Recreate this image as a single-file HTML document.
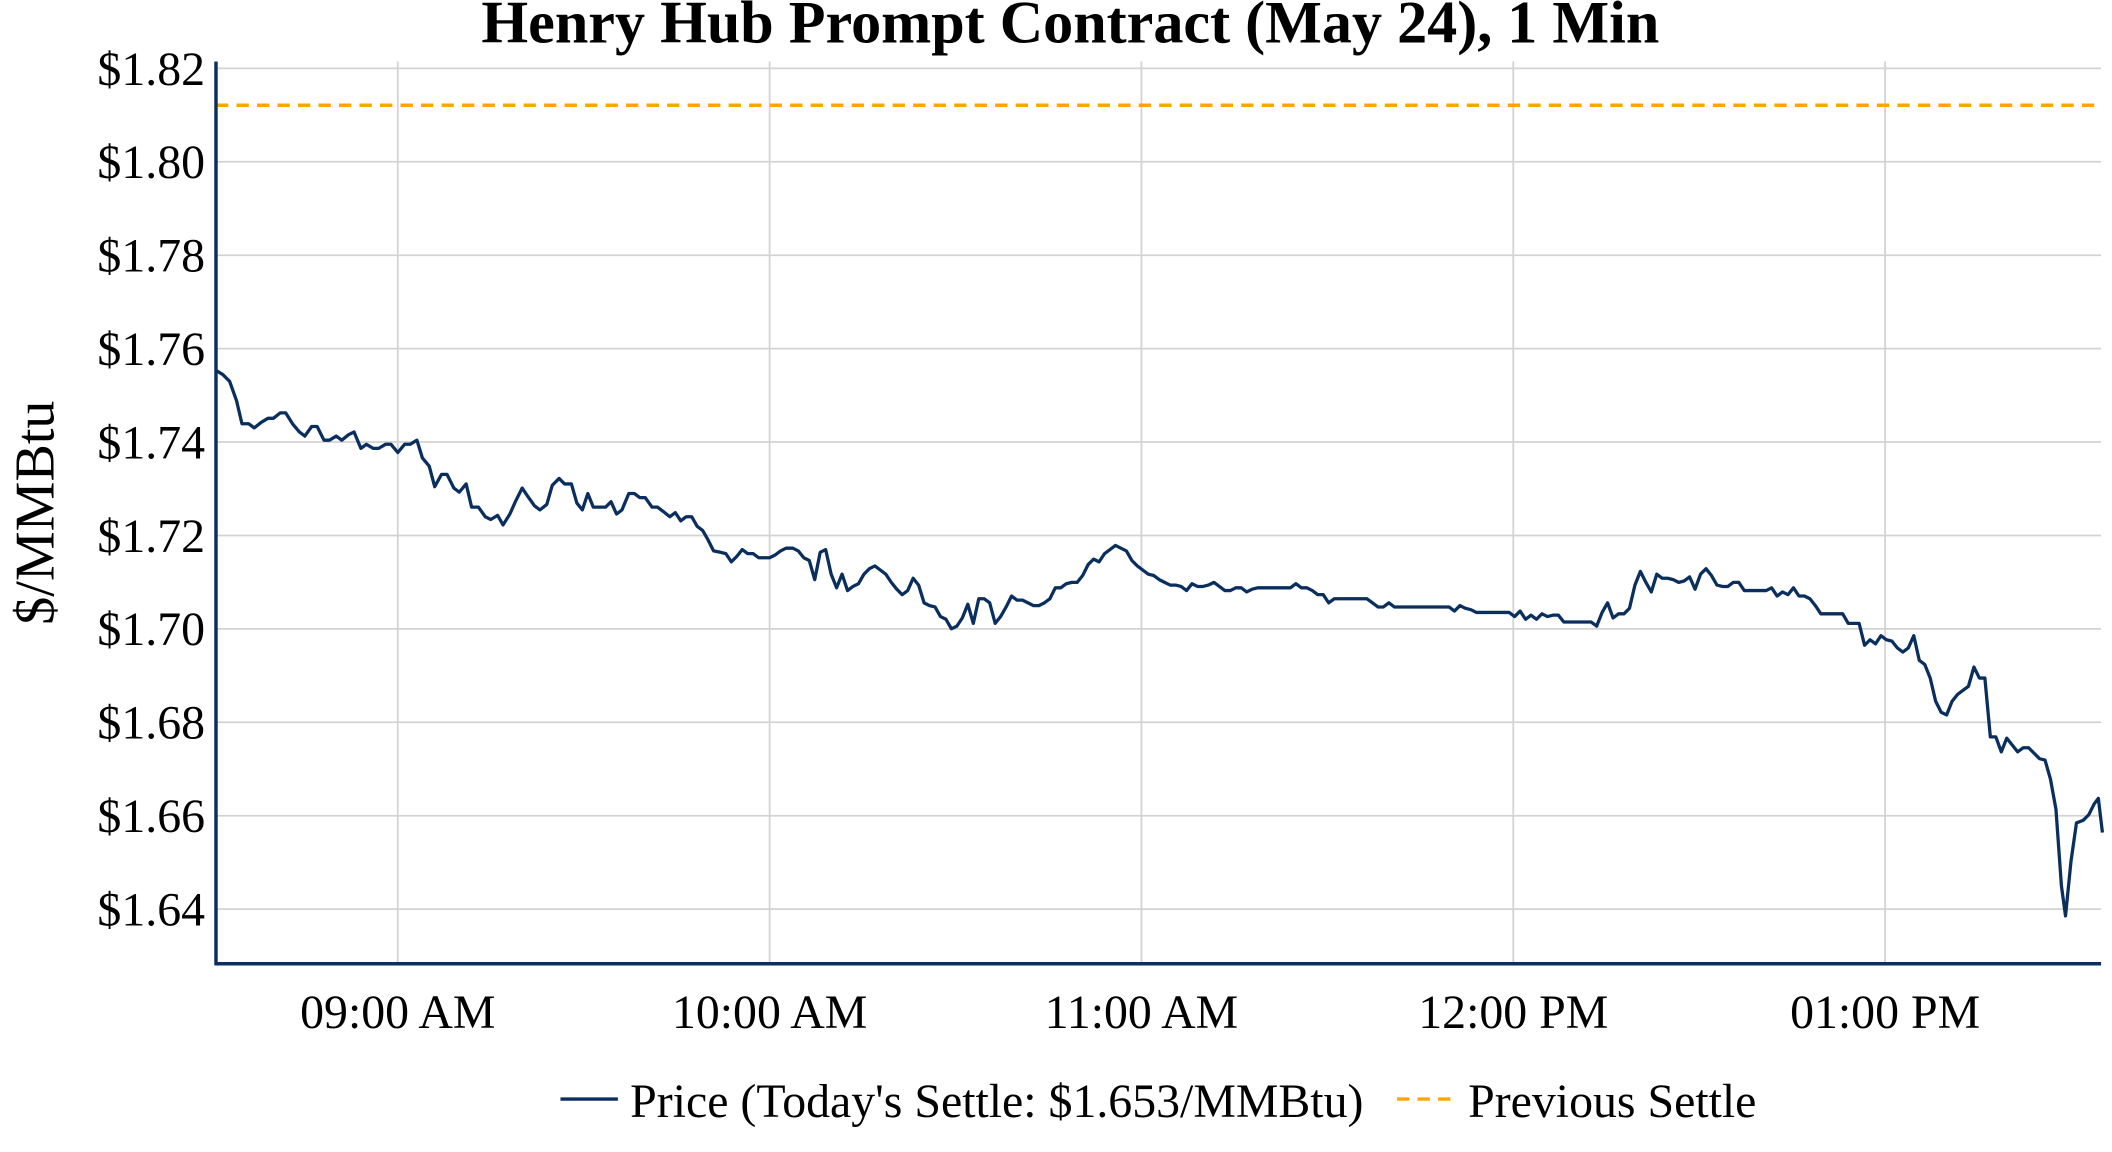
<!DOCTYPE html>
<html><head><meta charset="utf-8"><style>html,body{margin:0;padding:0;background:#fff;}svg{display:block}</style></head>
<body>
<svg width="2112" height="1152" viewBox="0 0 1545 842.7" preserveAspectRatio="none" xmlns="http://www.w3.org/2000/svg" font-family="'Liberation Serif', serif">
<g stroke="#d3d3d3" stroke-width="1.3">
<line x1="158" x2="1537" y1="50" y2="50"/><line x1="158" x2="1537" y1="118.3" y2="118.3"/><line x1="158" x2="1537" y1="186.7" y2="186.7"/><line x1="158" x2="1537" y1="255" y2="255"/><line x1="158" x2="1537" y1="323.3" y2="323.3"/><line x1="158" x2="1537" y1="391.7" y2="391.7"/><line x1="158" x2="1537" y1="460" y2="460"/><line x1="158" x2="1537" y1="528.3" y2="528.3"/><line x1="158" x2="1537" y1="596.7" y2="596.7"/><line x1="158" x2="1537" y1="665" y2="665"/>
<line x1="291" x2="291" y1="45" y2="705"/><line x1="563" x2="563" y1="45" y2="705"/><line x1="835" x2="835" y1="45" y2="705"/><line x1="1107" x2="1107" y1="45" y2="705"/><line x1="1379" x2="1379" y1="45" y2="705"/>
</g>
<line x1="158" x2="1537" y1="77" y2="77" stroke="#ffa500" stroke-width="2.5" stroke-dasharray="9,6"/>
<polyline fill="none" stroke="#0a2f5e" stroke-width="2.4" stroke-linejoin="round" points="158,271 163,274 168,279 173,293 177,310 182,310 186,313 191,309 196,306 200,306 205,302 209,302 214,310 219,316 223,319 228,312 232,312 237,322 241,322 246,319 250,322 255,318 259,316 264,328 268,325 273,328 277,328 282,325 286,325 291,331 296,325 300,325 305,322 309,335 314,341 318,356 323,347 327,347 332,357 336,360 341,354 345,371 350,371 355,378 359,380 364,377 368,384 373,376 377,367 382,357 386,363 391,370 395,373 400,369 404,355 409,350 413,354 418,354 422,368 426,373 430,361 434,371 439,371 443,371 447,367 451,376 455,373 460,361 464,361 468,364 472,364 477,371 481,371 485,374 490,378 494,375 498,381 502,378 506,378 510,385 514,388 518,395 522,403 527,404 531,405 535,411 539,407 543,402 547,405 551,405 555,408 559,408 563,408 567,406 571,403 575,401 580,401 584,403 588,408 592,410 596,424 600,404 604,402 608,420 612,430 616,420 620,432 624,429 628,427 632,420 636,416 640,414 644,417 648,420 652,426 656,431 660,435 664,432 668,423 672,428 676,441 680,443 684,444 688,451 692,453 696,460 700,458 704,452 708,442 712,456 716,438 720,438 724,441 728,456 732,451 736,444 740,436 744,439 748,439 752,441 756,443 760,443 764,441 768,438 772,430 776,430 780,427 784,426 788,426 792,421 796,413 800,409 804,411 808,405 812,402 816,399 820,401 824,403 828,410 832,414 836,417 840,420 844,421 848,424 852,426 856,428 860,428 864,429 868,432 872,427 876,429 880,429 884,428 888,426 892,429 896,432 900,432 904,430 908,430 912,433 916,431 920,430 924,430 944,430 948,427 952,430 956,430 960,432 964,435 968,435 972,441 976,438 1000,438 1004,441 1008,444 1012,444 1016,441 1020,444 1060,444 1064,447 1068,443 1072,445 1076,446 1080,448 1104,448 1108,451 1112,447 1116,453 1120,450 1124,453 1128,449 1132,451 1136,450 1140,450 1144,455 1164,455 1168,458 1172,448 1176,441 1180,452 1184,449 1188,449 1192,445 1196,428 1200,418 1204,426 1208,433 1212,420 1216,423 1220,423 1224,424 1228,426 1232,425 1236,422 1240,431 1244,420 1248,416 1252,421 1256,428 1260,429 1264,429 1268,426 1272,426 1276,432 1292,432 1296,430 1300,436 1304,433 1308,435 1312,430 1316,436 1320,436 1324,438 1328,443 1332,449 1348,449 1352,456 1360,456 1364,472 1368,468 1372,471 1376,465 1380,468 1384,469 1388,474 1392,477 1396,474 1400,465 1404,483 1408,486 1412,496 1416,513 1420,521 1424,523 1428,513 1432,508 1436,505 1440,502 1444,488 1448,496 1452,496 1456,539 1460,539 1464,550 1468,540 1472,545 1476,550 1480,547 1484,547 1488,551 1492,555 1496,556 1500,570 1504,592 1508,648 1511,670 1515,630 1519,602 1524,600 1528,596 1532,588 1535,584 1538,609"/>
<line x1="158" x2="158" y1="45" y2="706" stroke="#0a2f5e" stroke-width="2.5"/>
<line x1="157" x2="1537" y1="705" y2="705" stroke="#0a2f5e" stroke-width="2.5"/>
<text x="783" y="31" text-anchor="middle" font-size="44" font-weight="bold">Henry Hub Prompt Contract (May 24), 1 Min</text>
<g font-size="35" text-anchor="end">
<text x="150" y="62">$1.82</text><text x="150" y="130.3">$1.80</text><text x="150" y="198.7">$1.78</text><text x="150" y="267">$1.76</text><text x="150" y="335.3">$1.74</text><text x="150" y="403.7">$1.72</text><text x="150" y="472">$1.70</text><text x="150" y="540.3">$1.68</text><text x="150" y="608.7">$1.66</text><text x="150" y="677">$1.64</text>
</g>
<g font-size="35" text-anchor="middle">
<text x="291" y="752">09:00 AM</text><text x="563" y="752">10:00 AM</text><text x="835" y="752">11:00 AM</text><text x="1107" y="752">12:00 PM</text><text x="1379" y="752">01:00 PM</text>
</g>
<text transform="translate(39,375) rotate(-90)" text-anchor="middle" font-size="41">$/MMBtu</text>
<line x1="410" x2="452" y1="804" y2="804" stroke="#0a2f5e" stroke-width="2.5"/>
<text x="461" y="817" font-size="35">Price (Today's Settle: $1.653/MMBtu)</text>
<line x1="1022" x2="1064" y1="804" y2="804" stroke="#ffa500" stroke-width="2.5" stroke-dasharray="9,6"/>
<text x="1074" y="817" font-size="35">Previous Settle</text>
</svg>
</body></html>
